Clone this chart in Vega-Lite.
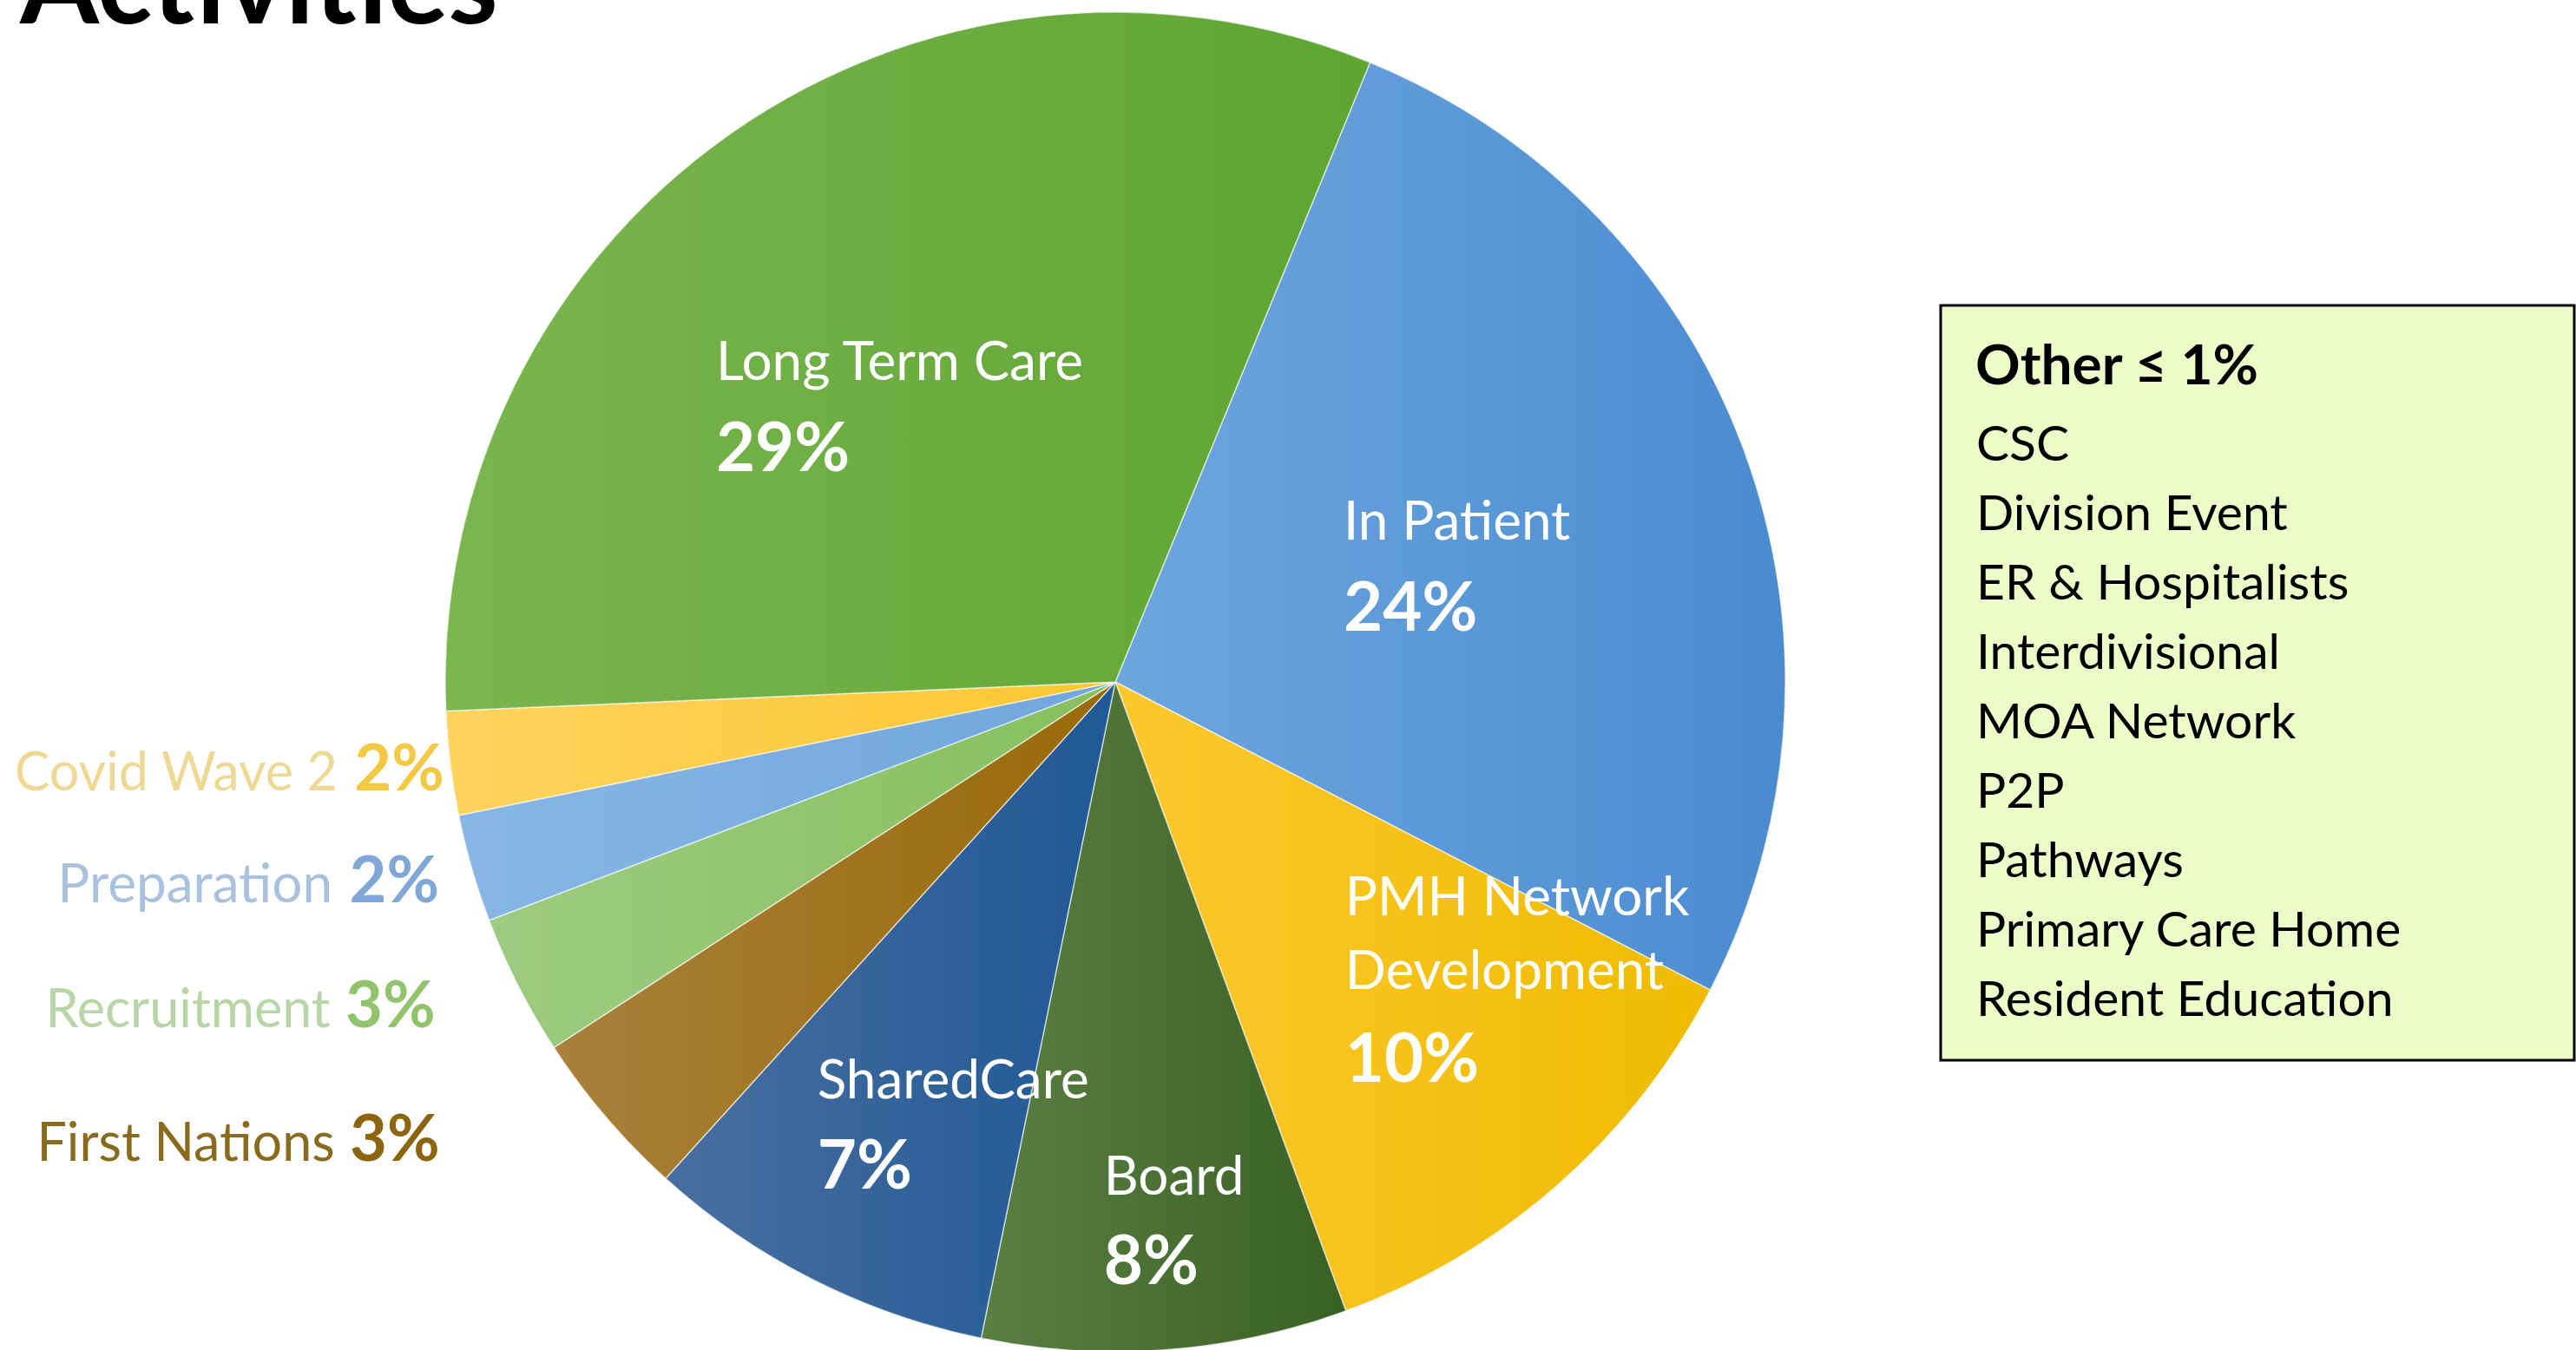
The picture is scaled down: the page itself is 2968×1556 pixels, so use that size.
{
  "$schema": "https://vega.github.io/schema/vega-lite/v6.json",
  "width": 2570,
  "height": 1572,
  "autosize": {"type": "none"},
  "padding": {"left": 0, "top": 0, "right": 398, "bottom": 0},
  "background": "#ffffff",
  "title": {"text": "Activities", "anchor": "start", "frame": "group", "font": "Lato", "fontSize": 131, "fontWeight": "bold", "color": "#000000", "baseline": "alphabetic", "offset": -158, "dx": 23},
  "config": {"view": {"stroke": null}, "legend": {"strokeWidth": 3}},
  "datasets": {
    "slices": [
      {"category": "In Patient", "order": 1, "share": 26.4, "name": "In Patient", "pct": "24%"},
      {"category": "PMH Network Development", "order": 2, "share": 11.8, "name": "PMH Network\nDevelopment", "pct": "10%"},
      {"category": "Board", "order": 3, "share": 8.8, "name": "Board", "pct": "8%"},
      {"category": "SharedCare", "order": 4, "share": 8.5, "name": "SharedCare", "pct": "7%"},
      {"category": "First Nations", "order": 5, "share": 4.1, "name": "First Nations", "pct": "3%"},
      {"category": "Recruitment", "order": 6, "share": 3.4, "name": "Recruitment", "pct": "3%"},
      {"category": "Preparation", "order": 7, "share": 2.6, "name": "Preparation", "pct": "2%"},
      {"category": "Covid Wave 2", "order": 8, "share": 2.5, "name": "Covid Wave 2", "pct": "2%"},
      {"category": "Long Term Care", "order": 9, "share": 31.9, "name": "Long Term Care", "pct": "29%"}
    ],
    "others": [
      {"name": "CSC"},
      {"name": "Division Event"},
      {"name": "ER & Hospitalists"},
      {"name": "Interdivisional"},
      {"name": "MOA Network"},
      {"name": "P2P"},
      {"name": "Pathways"},
      {"name": "Primary Care Home"},
      {"name": "Resident Education"}
    ]
  },
  "layer": [
    {
      "data": {"name": "slices"},
      "transform": [
        {"stack": "share", "groupby": [], "sort": [{"field": "order", "order": "ascending"}], "as": ["v0", "v1"]},
        {"calculate": "(datum.v0 + datum.v1) / 2", "as": "mid"}
      ],
      "layer": [
        {
          "transform": [{"filter": "datum.category === 'In Patient'"}],
          "layer": [
            {"mark": {"type": "arc", "radius": 772, "stroke": "#ffffff", "strokeWidth": 1.5, "strokeOpacity": 0.6, "fill": {"gradient": "linear", "x1": 0, "y1": 0, "x2": 1, "y2": 0, "stops": [{"offset": 0, "color": "#6ca6de"}, {"offset": 1, "color": "#4a8bd0"}]}},
             "encoding": {"theta": {"field": "v0", "type": "quantitative", "stack": null, "scale": {"domain": [0, 100], "range": [0.3901, 6.6733]}}, "theta2": {"field": "v1"}}},
            {"mark": {"type": "text", "radius": 410, "dx": -122, "dy": -23, "align": "left", "baseline": "alphabetic", "font": "Lato", "fontSize": 62, "color": "#ffffff"},
             "encoding": {"theta": {"field": "mid", "type": "quantitative", "stack": null, "scale": {"domain": [0, 100], "range": [0.3901, 6.6733]}}, "text": {"field": "name", "type": "nominal"}}},
            {"mark": {"type": "text", "radius": 410, "dx": -122, "dy": 82, "align": "left", "baseline": "alphabetic", "font": "Lato", "fontSize": 78, "fontWeight": "bold", "color": "#ffffff"},
             "encoding": {"theta": {"field": "mid", "type": "quantitative", "stack": null, "scale": {"domain": [0, 100], "range": [0.3901, 6.6733]}}, "text": {"field": "pct", "type": "nominal"}}}
          ]
        },
        {
          "transform": [{"filter": "datum.category === 'PMH Network Development'"}],
          "layer": [
            {"mark": {"type": "arc", "radius": 772, "stroke": "#ffffff", "strokeWidth": 1.5, "strokeOpacity": 0.6, "fill": {"gradient": "linear", "x1": 0, "y1": 0, "x2": 1, "y2": 0, "stops": [{"offset": 0, "color": "#fec72e"}, {"offset": 1, "color": "#eebb00"}]}},
             "encoding": {"theta": {"field": "v0", "type": "quantitative", "stack": null, "scale": {"domain": [0, 100], "range": [0.3901, 6.6733]}}, "theta2": {"field": "v1"}}},
            {"mark": {"type": "text", "radius": 555, "dx": -102, "dy": -148, "align": "left", "baseline": "alphabetic", "font": "Lato", "fontSize": 62, "color": "#ffffff", "lineBreak": "\n", "lineHeight": 85},
             "encoding": {"theta": {"field": "mid", "type": "quantitative", "stack": null, "scale": {"domain": [0, 100], "range": [0.3901, 6.6733]}}, "text": {"field": "name", "type": "nominal"}}},
            {"mark": {"type": "text", "radius": 555, "dx": -102, "dy": 44, "align": "left", "baseline": "alphabetic", "font": "Lato", "fontSize": 78, "fontWeight": "bold", "color": "#ffffff"},
             "encoding": {"theta": {"field": "mid", "type": "quantitative", "stack": null, "scale": {"domain": [0, 100], "range": [0.3901, 6.6733]}}, "text": {"field": "pct", "type": "nominal"}}}
          ]
        },
        {
          "transform": [{"filter": "datum.category === 'Board'"}],
          "layer": [
            {"mark": {"type": "arc", "radius": 772, "stroke": "#ffffff", "strokeWidth": 1.5, "strokeOpacity": 0.6, "fill": {"gradient": "linear", "x1": 0, "y1": 0, "x2": 1, "y2": 0, "stops": [{"offset": 0, "color": "#5a7f42"}, {"offset": 1, "color": "#3a6124"}]}},
             "encoding": {"theta": {"field": "v0", "type": "quantitative", "stack": null, "scale": {"domain": [0, 100], "range": [0.3901, 6.6733]}}, "theta2": {"field": "v1"}}},
            {"mark": {"type": "text", "radius": 625, "dx": -60, "dy": -32, "align": "left", "baseline": "alphabetic", "font": "Lato", "fontSize": 62, "color": "#ffffff"},
             "encoding": {"theta": {"field": "mid", "type": "quantitative", "stack": null, "scale": {"domain": [0, 100], "range": [0.3901, 6.6733]}}, "text": {"field": "name", "type": "nominal"}}},
            {"mark": {"type": "text", "radius": 625, "dx": -60, "dy": 71, "align": "left", "baseline": "alphabetic", "font": "Lato", "fontSize": 78, "fontWeight": "bold", "color": "#ffffff"},
             "encoding": {"theta": {"field": "mid", "type": "quantitative", "stack": null, "scale": {"domain": [0, 100], "range": [0.3901, 6.6733]}}, "text": {"field": "pct", "type": "nominal"}}}
          ]
        },
        {
          "transform": [{"filter": "datum.category === 'SharedCare'"}],
          "layer": [
            {"mark": {"type": "arc", "radius": 772, "stroke": "#ffffff", "strokeWidth": 1.5, "strokeOpacity": 0.6, "fill": {"gradient": "linear", "x1": 0, "y1": 0, "x2": 1, "y2": 0, "stops": [{"offset": 0, "color": "#4a6fa0"}, {"offset": 1, "color": "#1f5996"}]}},
             "encoding": {"theta": {"field": "v0", "type": "quantitative", "stack": null, "scale": {"domain": [0, 100], "range": [0.3901, 6.6733]}}, "theta2": {"field": "v1"}}},
            {"mark": {"type": "text", "radius": 543, "dx": -98, "dy": -4, "align": "left", "baseline": "alphabetic", "font": "Lato", "fontSize": 62, "color": "#ffffff"},
             "encoding": {"theta": {"field": "mid", "type": "quantitative", "stack": null, "scale": {"domain": [0, 100], "range": [0.3901, 6.6733]}}, "text": {"field": "name", "type": "nominal"}}},
            {"mark": {"type": "text", "radius": 543, "dx": -98, "dy": 100, "align": "left", "baseline": "alphabetic", "font": "Lato", "fontSize": 78, "fontWeight": "bold", "color": "#ffffff"},
             "encoding": {"theta": {"field": "mid", "type": "quantitative", "stack": null, "scale": {"domain": [0, 100], "range": [0.3901, 6.6733]}}, "text": {"field": "pct", "type": "nominal"}}}
          ]
        },
        {
          "transform": [{"filter": "datum.category === 'First Nations'"}],
          "layer": [
            {"mark": {"type": "arc", "radius": 772, "stroke": "#ffffff", "strokeWidth": 1.5, "strokeOpacity": 0.6, "fill": {"gradient": "linear", "x1": 0, "y1": 0, "x2": 1, "y2": 0, "stops": [{"offset": 0, "color": "#a8803c"}, {"offset": 1, "color": "#9a6a06"}]}},
             "encoding": {"theta": {"field": "v0", "type": "quantitative", "stack": null, "scale": {"domain": [0, 100], "range": [0.3901, 6.6733]}}, "theta2": {"field": "v1"}}},
            {"mark": {"type": "text", "radius": 851, "dx": -252, "dy": 0, "align": "right", "baseline": "alphabetic", "font": "Lato", "fontSize": 61, "color": "#8a6a1c"},
             "encoding": {"theta": {"field": "mid", "type": "quantitative", "stack": null, "scale": {"domain": [0, 100], "range": [0.3901, 6.6733]}}, "text": {"field": "name", "type": "nominal"}}},
            {"mark": {"type": "text", "radius": 851, "dx": -131, "dy": 0, "align": "right", "baseline": "alphabetic", "font": "Lato", "fontSize": 74, "fontWeight": "bold", "color": "#8d6410"},
             "encoding": {"theta": {"field": "mid", "type": "quantitative", "stack": null, "scale": {"domain": [0, 100], "range": [0.3901, 6.6733]}}, "text": {"field": "pct", "type": "nominal"}}}
          ]
        },
        {
          "transform": [{"filter": "datum.category === 'Recruitment'"}],
          "layer": [
            {"mark": {"type": "arc", "radius": 772, "stroke": "#ffffff", "strokeWidth": 1.5, "strokeOpacity": 0.6, "fill": {"gradient": "linear", "x1": 0, "y1": 0, "x2": 1, "y2": 0, "stops": [{"offset": 0, "color": "#9dcb80"}, {"offset": 1, "color": "#86bf5c"}]}},
             "encoding": {"theta": {"field": "v0", "type": "quantitative", "stack": null, "scale": {"domain": [0, 100], "range": [0.3901, 6.6733]}}, "theta2": {"field": "v1"}}},
            {"mark": {"type": "text", "radius": 880, "dx": -120, "dy": -1, "align": "right", "baseline": "alphabetic", "font": "Lato", "fontSize": 61, "color": "#b8d5a6"},
             "encoding": {"theta": {"field": "mid", "type": "quantitative", "stack": null, "scale": {"domain": [0, 100], "range": [0.3901, 6.6733]}}, "text": {"field": "name", "type": "nominal"}}},
            {"mark": {"type": "text", "radius": 880, "dx": 1, "dy": -1, "align": "right", "baseline": "alphabetic", "font": "Lato", "fontSize": 74, "fontWeight": "bold", "color": "#92c36c"},
             "encoding": {"theta": {"field": "mid", "type": "quantitative", "stack": null, "scale": {"domain": [0, 100], "range": [0.3901, 6.6733]}}, "text": {"field": "pct", "type": "nominal"}}}
          ]
        },
        {
          "transform": [{"filter": "datum.category === 'Preparation'"}],
          "layer": [
            {"mark": {"type": "arc", "radius": 772, "stroke": "#ffffff", "strokeWidth": 1.5, "strokeOpacity": 0.6, "fill": {"gradient": "linear", "x1": 0, "y1": 0, "x2": 1, "y2": 0, "stops": [{"offset": 0, "color": "#87b6e4"}, {"offset": 1, "color": "#6fa6dc"}]}},
             "encoding": {"theta": {"field": "v0", "type": "quantitative", "stack": null, "scale": {"domain": [0, 100], "range": [0.3901, 6.6733]}}, "theta2": {"field": "v1"}}},
            {"mark": {"type": "text", "radius": 810, "dx": -124, "dy": 28, "align": "right", "baseline": "alphabetic", "font": "Lato", "fontSize": 62, "color": "#a8c1de"},
             "encoding": {"theta": {"field": "mid", "type": "quantitative", "stack": null, "scale": {"domain": [0, 100], "range": [0.3901, 6.6733]}}, "text": {"field": "name", "type": "nominal"}}},
            {"mark": {"type": "text", "radius": 810, "dx": -1, "dy": 28, "align": "right", "baseline": "alphabetic", "font": "Lato", "fontSize": 74, "fontWeight": "bold", "color": "#7fa8d8"},
             "encoding": {"theta": {"field": "mid", "type": "quantitative", "stack": null, "scale": {"domain": [0, 100], "range": [0.3901, 6.6733]}}, "text": {"field": "pct", "type": "nominal"}}}
          ]
        },
        {
          "transform": [{"filter": "datum.category === 'Covid Wave 2'"}],
          "layer": [
            {"mark": {"type": "arc", "radius": 772, "stroke": "#ffffff", "strokeWidth": 1.5, "strokeOpacity": 0.6, "fill": {"gradient": "linear", "x1": 0, "y1": 0, "x2": 1, "y2": 0, "stops": [{"offset": 0, "color": "#fed35e"}, {"offset": 1, "color": "#fcc730"}]}},
             "encoding": {"theta": {"field": "v0", "type": "quantitative", "stack": null, "scale": {"domain": [0, 100], "range": [0.3901, 6.6733]}}, "theta2": {"field": "v1"}}},
            {"mark": {"type": "text", "radius": 790, "dx": -112, "dy": 29, "align": "right", "baseline": "alphabetic", "font": "Lato", "fontSize": 61, "color": "#efd894"},
             "encoding": {"theta": {"field": "mid", "type": "quantitative", "stack": null, "scale": {"domain": [0, 100], "range": [0.3901, 6.6733]}}, "text": {"field": "name", "type": "nominal"}}},
            {"mark": {"type": "text", "radius": 790, "dx": 11, "dy": 29, "align": "right", "baseline": "alphabetic", "font": "Lato", "fontSize": 74, "fontWeight": "bold", "color": "#f4c843"},
             "encoding": {"theta": {"field": "mid", "type": "quantitative", "stack": null, "scale": {"domain": [0, 100], "range": [0.3901, 6.6733]}}, "text": {"field": "pct", "type": "nominal"}}}
          ]
        },
        {
          "transform": [{"filter": "datum.category === 'Long Term Care'"}],
          "layer": [
            {"mark": {"type": "arc", "radius": 772, "stroke": "#ffffff", "strokeWidth": 1.5, "strokeOpacity": 0.6, "fill": {"gradient": "linear", "x1": 0, "y1": 0, "x2": 1, "y2": 0, "stops": [{"offset": 0, "color": "#7ab54f"}, {"offset": 1, "color": "#5ea532"}]}},
             "encoding": {"theta": {"field": "v0", "type": "quantitative", "stack": null, "scale": {"domain": [0, 100], "range": [0.3901, 6.6733]}}, "theta2": {"field": "v1"}}},
            {"mark": {"type": "text", "radius": 404, "dx": -228, "dy": -17, "align": "left", "baseline": "alphabetic", "font": "Lato", "fontSize": 62, "color": "#ffffff"},
             "encoding": {"theta": {"field": "mid", "type": "quantitative", "stack": null, "scale": {"domain": [0, 100], "range": [0.3901, 6.6733]}}, "text": {"field": "name", "type": "nominal"}}},
            {"mark": {"type": "text", "radius": 404, "dx": -228, "dy": 88, "align": "left", "baseline": "alphabetic", "font": "Lato", "fontSize": 78, "fontWeight": "bold", "color": "#ffffff"},
             "encoding": {"theta": {"field": "mid", "type": "quantitative", "stack": null, "scale": {"domain": [0, 100], "range": [0.3901, 6.6733]}}, "text": {"field": "pct", "type": "nominal"}}}
          ]
        }
      ]
    },
    {
      "data": {"name": "others"},
      "mark": {"type": "point", "opacity": 0, "size": 4},
      "encoding": {
        "shape": {
          "field": "name",
          "type": "nominal",
          "sort": null,
          "legend": {
            "title": "Other ≤ 1%",
            "orient": "none",
            "legendX": 2236,
            "legendY": 352,
            "fillColor": "#edfbc9",
            "strokeColor": "#000000",
            "padding": 40,
            "titleFont": "Lato",
            "titleFontSize": 64,
            "titleFontWeight": "bold",
            "titleColor": "#000000",
            "titlePadding": 29,
            "titleLimit": 3000,
            "labelFont": "Lato",
            "labelFontSize": 57,
            "labelColor": "#000000",
            "labelLimit": 3000,
            "labelOffset": -676,
            "symbolType": "square",
            "symbolSize": 4,
            "symbolOffset": 620,
            "symbolOpacity": 0,
            "symbolFillColor": "#edfbc9",
            "symbolStrokeColor": "#edfbc9",
            "symbolStrokeWidth": 0,
            "rowPadding": 22
          }
        }
      }
    }
  ]
}
